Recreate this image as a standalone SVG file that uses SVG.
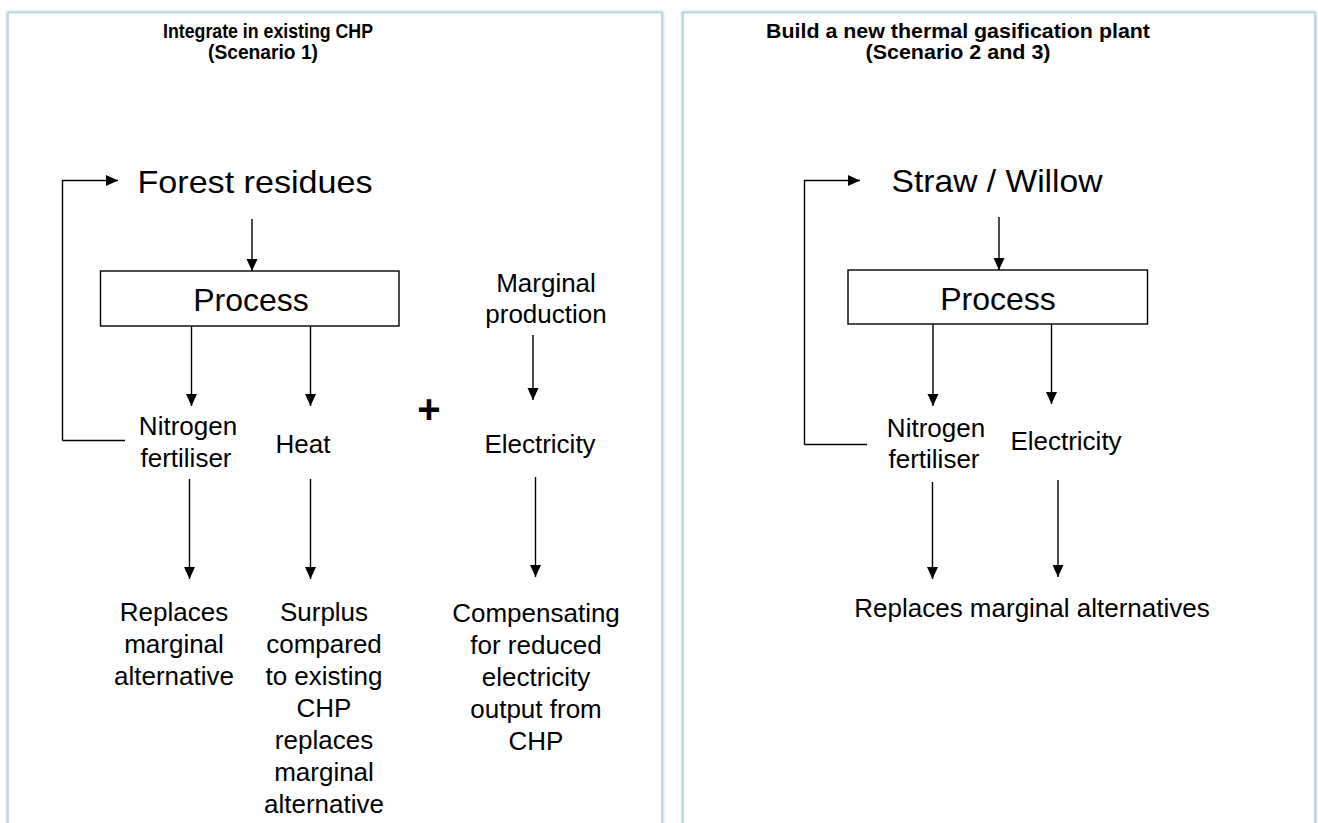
<svg xmlns="http://www.w3.org/2000/svg" width="1318" height="823" viewBox="0 0 1318 823">
<style>
.panel{fill:#ffffff;stroke:#a6d6df;stroke-width:1.6}
.title{font-family:"Liberation Sans",Arial,sans-serif;font-weight:bold;font-size:20px;fill:#000;text-anchor:middle}
.big{font-family:"Liberation Sans",Arial,sans-serif;font-size:32px;fill:#000;text-anchor:middle}
.lbl{font-family:"Liberation Sans",Arial,sans-serif;font-size:26px;fill:#000;text-anchor:middle}
.box{fill:#ffffff;stroke:#000;stroke-width:1.4}
.ln{fill:none;stroke:#000;stroke-width:1.4}
.arr{fill:none;stroke:#000;stroke-width:1.4;marker-end:url(#ah)}
</style>
<defs>
<marker id="ah" markerUnits="userSpaceOnUse" markerWidth="13" markerHeight="12" refX="12" refY="5.5" orient="auto">
<path d="M0,0 L12,5.5 L0,11 z" fill="#000"/>
</marker>
<filter id="sh" x="-5%" y="-5%" width="110%" height="110%">
<feGaussianBlur in="SourceAlpha" stdDeviation="1.5"/>
<feComponentTransfer><feFuncA type="linear" slope="0.35"/></feComponentTransfer>
<feMerge><feMergeNode/><feMergeNode in="SourceGraphic"/></feMerge>
</filter>
</defs>
<rect width="1318" height="823" fill="#ffffff"/>
<g id="panel-left">
<rect class="panel" x="8" y="12.5" width="654" height="840" filter="url(#sh)"/>
<text class="title"><tspan x="268" y="38" textLength="210" lengthAdjust="spacingAndGlyphs">Integrate in existing CHP</tspan><tspan x="263" y="59" textLength="110" lengthAdjust="spacingAndGlyphs">(Scenario 1)</tspan></text>
</g>
<g id="panel-right">
<rect class="panel" x="683" y="12.5" width="632" height="840" filter="url(#sh)"/>
<text class="title"><tspan x="958" y="38" textLength="384" lengthAdjust="spacingAndGlyphs">Build a new thermal gasification plant</tspan><tspan x="958" y="59" textLength="185" lengthAdjust="spacingAndGlyphs">(Scenario 2 and 3)</tspan></text>
</g>
<g id="connectors">
<path class="arr" d="M62.5,440.5 L62.5,180.5 L118,180.5"/>
<path class="ln" d="M62.5,440.5 L125,440.5"/>
<path class="arr" d="M252,219 L252,271"/>
<path class="arr" d="M191.5,326 L191.5,406"/>
<path class="arr" d="M310.5,326 L310.5,406"/>
<path class="arr" d="M533,335 L533,400"/>
<path class="arr" d="M189.5,479 L189.5,579"/>
<path class="arr" d="M310.5,479 L310.5,579"/>
<path class="arr" d="M535.5,477 L535.5,577"/>
<path class="arr" d="M804.5,444.5 L804.5,180.5 L860,180.5"/>
<path class="ln" d="M804.5,444.5 L867,444.5"/>
<path class="arr" d="M999,217 L999,270"/>
<path class="arr" d="M933,324 L933,406"/>
<path class="arr" d="M1051.5,324 L1051.5,404"/>
<path class="arr" d="M932.5,482 L932.5,579"/>
<path class="arr" d="M1058,480 L1058,577"/>
</g>
<g id="forest-residues"><text class="big" x="255" y="193" textLength="235" lengthAdjust="spacingAndGlyphs">Forest residues</text></g>
<g id="process-1"><rect class="box" x="100.5" y="271" width="298.5" height="55"/><text class="big" x="251" y="311">Process</text></g>
<g id="nitrogen-1"><text class="lbl"><tspan x="188" y="435">Nitrogen</tspan><tspan x="186" y="467">fertiliser</tspan></text></g>
<g id="heat"><text class="lbl" x="303" y="453">Heat</text></g>
<g id="plus"><text x="429" y="423" style="font-family:'Liberation Sans',Arial,sans-serif;font-size:40px;font-weight:bold;text-anchor:middle">+</text></g>
<g id="marginal-production"><text class="lbl"><tspan x="546" y="292">Marginal</tspan><tspan x="546" y="323">production</tspan></text></g>
<g id="electricity-1"><text class="lbl" x="540" y="453">Electricity</text></g>
<g id="replaces-1"><text class="lbl"><tspan x="174" y="621">Replaces</tspan><tspan x="174" y="653">marginal</tspan><tspan x="174" y="685">alternative</tspan></text></g>
<g id="surplus"><text class="lbl"><tspan x="324" y="621">Surplus</tspan><tspan x="324" y="653">compared</tspan><tspan x="324" y="685">to existing</tspan><tspan x="324" y="717">CHP</tspan><tspan x="324" y="749">replaces</tspan><tspan x="324" y="781">marginal</tspan><tspan x="324" y="813">alternative</tspan></text></g>
<g id="compensating"><text class="lbl"><tspan x="536" y="622">Compensating</tspan><tspan x="536" y="654">for reduced</tspan><tspan x="536" y="686">electricity</tspan><tspan x="536" y="718">output from</tspan><tspan x="536" y="750">CHP</tspan></text></g>
<g id="straw-willow"><text class="big" x="997" y="192" textLength="211" lengthAdjust="spacingAndGlyphs">Straw / Willow</text></g>
<g id="process-2"><rect class="box" x="848" y="270" width="299.5" height="54"/><text class="big" x="998" y="310">Process</text></g>
<g id="nitrogen-2"><text class="lbl"><tspan x="936" y="437">Nitrogen</tspan><tspan x="934" y="468">fertiliser</tspan></text></g>
<g id="electricity-2"><text class="lbl" x="1066" y="450">Electricity</text></g>
<g id="replaces-2"><text class="lbl" x="1032" y="617">Replaces marginal alternatives</text></g>
</svg>
